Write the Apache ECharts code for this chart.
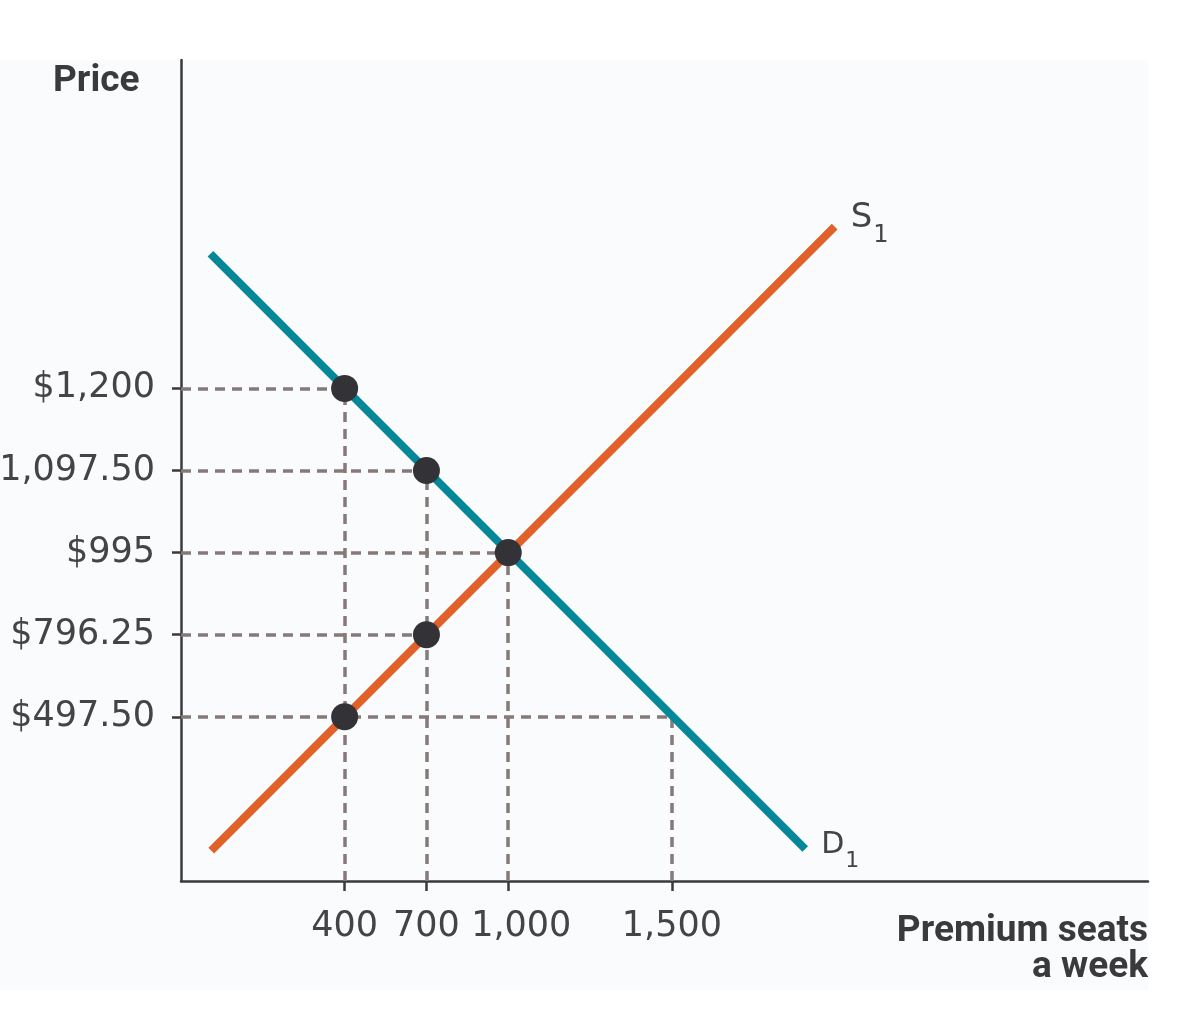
<!DOCTYPE html>
<html><head><meta charset="utf-8">
<script src="https://cdn.jsdelivr.net/npm/echarts@6/dist/echarts.min.js"></script>
<style>html,body{margin:0;padding:0;background:#fff}#c{width:1200px;height:1015px}</style>
</head><body><div id="c"></div>
<script>
// Tick values (schematic axes: ticks are evenly spaced slots, not to scale)
const prices = [497.5, 796.25, 995, 1097.5, 1200];
const priceLabels = ['$497.50', '$796.25', '$995', '$1,097.50', '$1,200'];
const priceSlots = [2, 3, 4, 5, 6];
const quantities = [400, 700, 1000, 1500];
const quantityLabels = ['400', '700', '1,000', '1,500'];
const quantitySlots = [2, 3, 4, 6];

// Marked points [quantity, price]
const demandPoints = [[400, 1200], [700, 1097.5], [1000, 995]];
const supplyPoints = [[400, 497.5], [700, 796.25], [1000, 995]];
// Dashed guides [quantity, price]
const hGuides = [[400, 1200], [700, 1097.5], [1000, 995], [700, 796.25], [1500, 497.5]];
const vGuides = [[400, 1200], [700, 1097.5], [1000, 995], [1500, 497.5]];
// Curve end points in schematic slot units
const demandCurve = [[0.36, 7.64], [7.63, 0.39]];
const supplyCurve = [[0.37, 0.37], [7.99, 7.97]];

const qs = q => quantitySlots[quantities.indexOf(q)];
const ps = p => priceSlots[prices.indexOf(p)];
const pt = d => [qs(d[0]), ps(d[1])];

const guideData = [];
hGuides.forEach(d => guideData.push({coords: [[0, ps(d[1])], pt(d)]}));
vGuides.forEach(d => guideData.push({coords: [[qs(d[0]), 0], pt(d)]}));

const dots = demandPoints.concat(supplyPoints.filter(p => !(p[0] === 1000))).map(pt);

const txt = '#444447';
const chart = echarts.init(document.getElementById('c'));
chart.setOption({
  animation: false,
  backgroundColor: '#ffffff',
  graphic: [{type: 'rect', z: -10, shape: {x: 0, y: 60, width: 1148, height: 930}, style: {fill: '#fafbfc'}},
    {type: 'text', left: 53, top: 63, style: {text: 'Price', font: 'bold 37px Roboto', fill: '#3a3a3d'}},
    {type: 'text', right: 52, top: 913, style: {text: 'Premium seats', font: 'bold 37px Roboto', fill: '#3a3a3d'}},
    {type: 'text', right: 52, top: 949, style: {text: 'a week', font: 'bold 37px Roboto', fill: '#3a3a3d'}}
  ],
  grid: {left: 181, right: 52, top: 60, bottom: 134, containLabel: false, outerBoundsMode: 'none'},
  xAxis: {
    type: 'value', min: 0, max: 11.82, interval: 1,
    splitLine: {show: false},
    axisLine: {lineStyle: {color: '#3a3a3c', width: 2.5}},
    axisTick: {show: true, length: 10, customValues: quantitySlots, lineStyle: {color: '#3a3a3c', width: 2.5}},
    axisLabel: {customValues: quantitySlots, margin: 28, fontFamily: 'DejaVu Sans', fontSize: 35, color: txt,
      hideOverlap: false,
      formatter: v => {
        const l = quantityLabels[quantitySlots.indexOf(v)] || '';
        return l === '1,000' ? '{sh|' + l + '}' : l;
      },
      rich: {sh: {fontFamily: 'DejaVu Sans', fontSize: 35, color: txt, padding: [0, 0, 0, 26]}}}
  },
  yAxis: {
    type: 'value', min: 0, max: 10, interval: 1,
    splitLine: {show: false},
    axisLine: {lineStyle: {color: '#3a3a3c', width: 2.5}},
    axisTick: {show: true, length: 9, customValues: priceSlots, lineStyle: {color: '#3a3a3c', width: 2.5}},
    axisLabel: {customValues: priceSlots, margin: 26, fontFamily: 'DejaVu Sans', fontSize: 35, color: txt,
      formatter: v => priceLabels[priceSlots.indexOf(v)] || ''}
  },
  series: [
    {type: 'lines', coordinateSystem: 'cartesian2d', z: 1, silent: true,
      lineStyle: {color: '#857a77', width: 3.5, type: [10, 7], opacity: 1},
      data: guideData},
    {type: 'line', z: 3, showSymbol: false, silent: true, data: demandCurve,
      lineStyle: {color: '#05879a', width: 8, cap: 'butt'},
      endLabel: {show: true, offset: [8, -4], formatter: '{m|D}{s|1}',
        rich: {m: {fontFamily: 'DejaVu Sans', fontSize: 30, color: txt},
               s: {fontFamily: 'DejaVu Sans', fontSize: 22, color: txt, verticalAlign: 'bottom', padding: [0, 0, -12, 1]}}}},
    {type: 'line', z: 3, showSymbol: false, silent: true, data: supplyCurve,
      lineStyle: {color: '#e0612a', width: 8, cap: 'butt'},
      endLabel: {show: true, offset: [8, -8], formatter: '{m|S}{s|1}',
        rich: {m: {fontFamily: 'DejaVu Sans', fontSize: 34, color: txt},
               s: {fontFamily: 'DejaVu Sans', fontSize: 24, color: txt, verticalAlign: 'bottom', padding: [0, 0, -12, 1]}}}},
    {type: 'scatter', z: 5, silent: true, symbolSize: 27, itemStyle: {color: '#333337', opacity: 1}, data: dots}
  ]
});
</script></body></html>
